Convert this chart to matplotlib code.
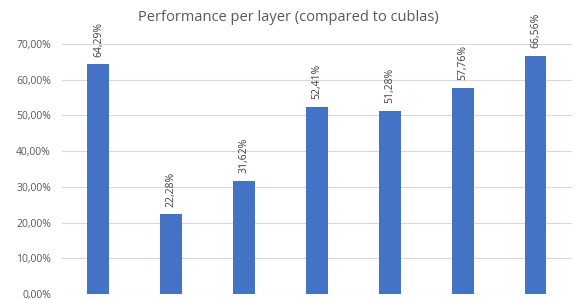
import matplotlib.pyplot as plt
from matplotlib.ticker import FuncFormatter

# values in percent, one bar per layer
layers = ['L1', 'L2', 'L3', 'L4', 'L5', 'L6', 'L7']
perf = [64.29, 22.28, 31.62, 52.41, 51.28, 57.76, 66.56]

plt.rcParams['font.family'] = ['Open Sans', 'DejaVu Sans']

fig = plt.figure(figsize=(5.76, 3.0), dpi=100)
ax = fig.add_axes([62 / 576, 6 / 300, 510 / 576, 250 / 300])

x = range(len(layers))
bars = ax.bar(x, perf, width=0.3, color='#4472C4', zorder=3)

for b, v in zip(bars, perf):
    ax.text(b.get_x() + b.get_width() / 2, v + 2.2, f'{v:.2f}%'.replace('.', ','),
            rotation=90, ha='center', va='bottom', fontsize=7.5, color='#404040')

ax.set_ylim(0, 70)
ax.set_xlim(-0.5, len(layers) - 0.5)
ax.set_yticks(range(0, 71, 10))
ax.yaxis.set_major_formatter(FuncFormatter(lambda v, p: f'{v:.2f}%'.replace('.', ',')))
ax.tick_params(axis='y', length=0, labelsize=7.5, labelcolor='#595959', pad=8)
ax.set_xticks([])
ax.grid(axis='y', color='#D9D9D9', linewidth=0.8, zorder=0)
for s in ax.spines.values():
    s.set_visible(False)

fig.text(0.5, 0.93, 'Performance per layer (compared to cublas)', ha='center',
         fontsize=10.5, color='#595959')

fig.savefig('out.png', dpi=100)
